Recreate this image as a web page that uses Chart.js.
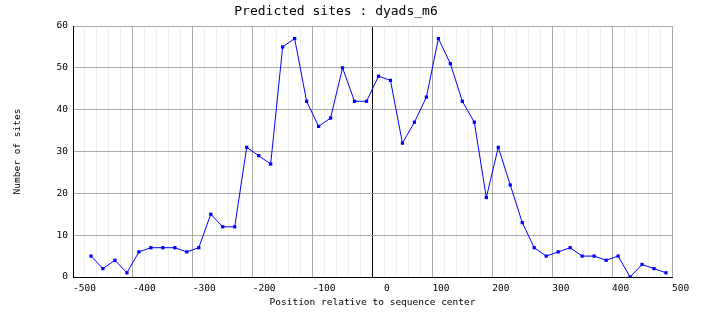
<!DOCTYPE html>
<html>
<head>
<meta charset="utf-8">
<script src="https://cdn.jsdelivr.net/npm/chart.js@4.4.0/dist/chart.umd.min.js"></script>
<style>
  body { margin: 0; background: #fff; }
  canvas { display: block; }
</style>
</head>
<body>
<canvas id="sitesChart" width="704" height="328"></canvas>
<script>
// positions (bin centres) and number of predicted sites
const positions = [-470, -450, -430, -410, -390, -370, -350, -330, -310, -290,
  -270, -250, -230, -210, -190, -170, -150, -130, -110, -90,
  -70, -50, -30, -10, 10, 30, 50, 70, 90, 110,
  130, 150, 170, 190, 210, 230, 250, 270, 290, 310,
  330, 350, 370, 390, 410, 430, 450, 470, 490];
const sites = [5, 2, 4, 1, 6, 7, 7, 7, 6, 7,
  15, 12, 12, 31, 29, 27, 55, 57, 42, 36,
  38, 50, 42, 42, 48, 47, 32, 37, 43, 57,
  51, 42, 37, 19, 31, 22, 13, 7, 5, 6,
  7, 5, 5, 4, 5, 0, 3, 2, 1];

const xMin = -500, xMax = 500, xStep = 20;
const yMin = 0, yMax = 60, yStep = 10;

const points = positions.map((x, i) => ({ x: x, y: sites[i] }));
const mono = "'DejaVu Sans Mono', 'Liberation Mono', monospace";

const ctx = document.getElementById('sitesChart').getContext('2d');
new Chart(ctx, {
  type: 'scatter',
  data: {
    datasets: [{
      label: 'dyads_m6',
      data: points,
      showLine: true,
      borderColor: '#0000ff',
      backgroundColor: '#0000ff',
      borderWidth: 1,
      pointStyle: 'rect',
      pointRadius: 2.3,
      pointBorderWidth: 0,
      tension: 0
    }]
  },
  options: {
    responsive: false,
    animation: false,
    layout: { padding: { left: 0, right: 32, top: 0, bottom: 0 } },
    plugins: {
      legend: { display: false },
      tooltip: { enabled: false },
      title: {
        display: true,
        text: 'Predicted sites : dyads_m6',
        color: '#000',
        font: { family: mono, size: 13, weight: 'normal', lineHeight: 1.2 },
        padding: { top: 4, bottom: 6.4 }
      }
    },
    scales: {
      x: {
        type: 'linear',
        min: xMin,
        max: xMax,
        afterFit: (scale) => { scale.height = 51; },
        border: { color: '#000', width: 1 },
        grid: {
          drawTicks: false,
          color: (c) => {
            const v = c.tick.value;
            if (v === 0) return '#000';
            return v % 100 === 0 ? '#aaaaaa' : '#eeeeee';
          }
        },
        ticks: {
          stepSize: xStep,
          autoSkip: false,
          maxRotation: 0,
          minRotation: 0,
          align: 'start',
          padding: 6,
          color: '#000',
          font: { family: mono, size: 9.5 },
          // the reference draws the "0" label a little to the right of its line
          callback: (v) => (v % 100 !== 0 ? '' : v === 0 ? '  0' : String(v))
        },
        title: {
          display: true,
          text: 'Position relative to sequence center',
          color: '#000',
          font: { family: mono, size: 9.5, lineHeight: 1.2 },
          padding: { top: 0, bottom: 19.3 }
        }
      },
      y: {
        min: yMin,
        max: yMax,
        afterFit: (scale) => { scale.width = 73; },
        border: { color: '#000', width: 1 },
        grid: { drawTicks: false, color: '#aaaaaa' },
        ticks: {
          stepSize: yStep,
          padding: 5,
          color: '#000',
          font: { family: mono, size: 9.5 }
        },
        title: {
          display: true,
          text: 'Number of sites',
          color: '#000',
          font: { family: mono, size: 9.5, lineHeight: 1.2 },
          padding: { top: 11.6, bottom: 0 }
        }
      }
    }
  }
});
</script>
</body>
</html>
